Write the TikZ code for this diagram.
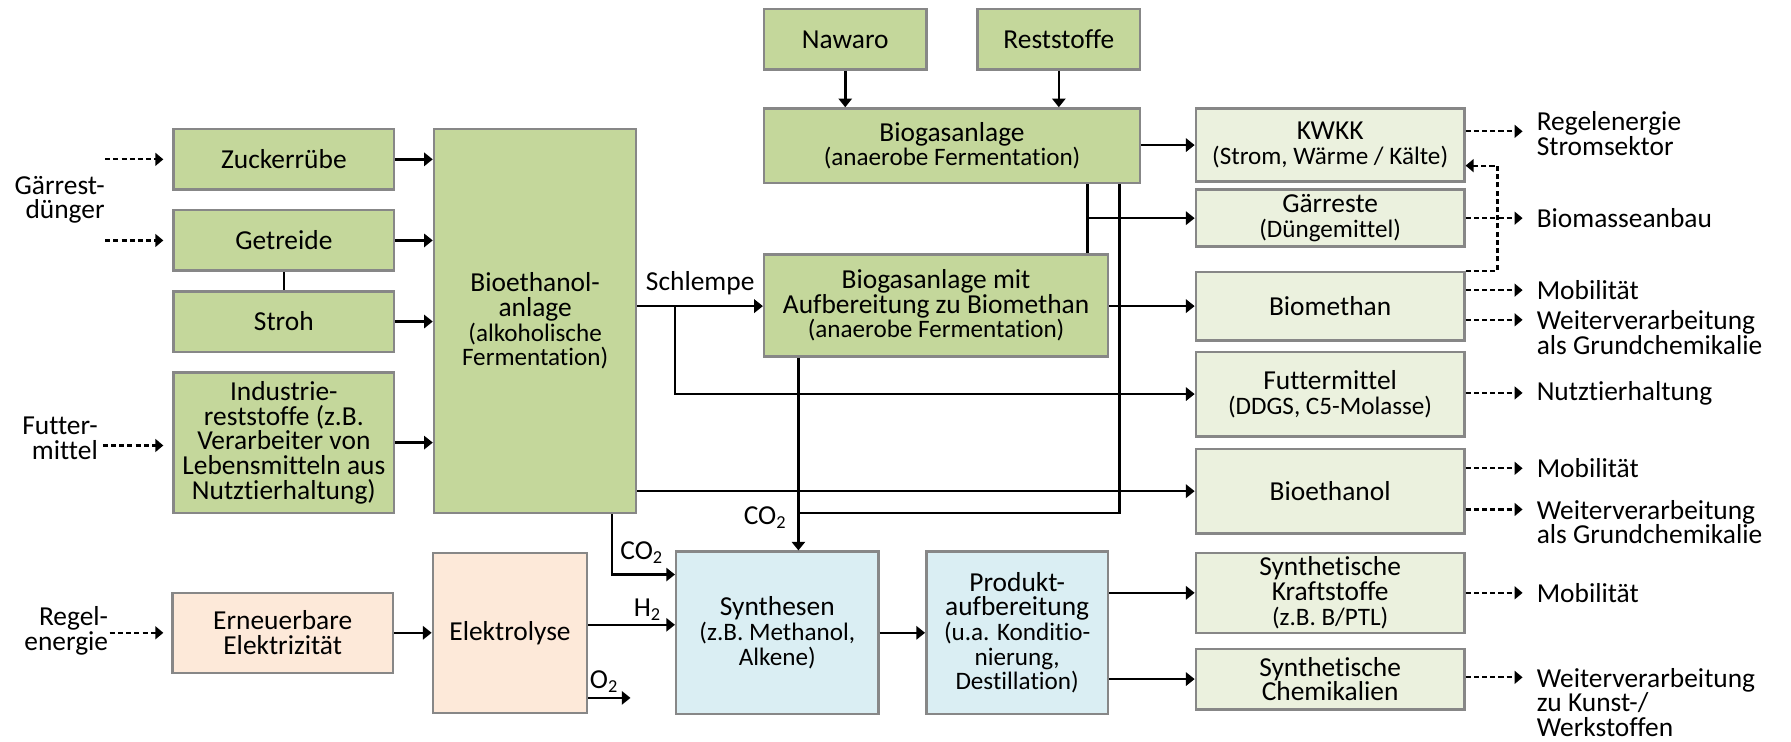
\documentclass[tikz,border=0pt]{standalone}
\usepackage{fontspec}
\setmainfont{Carlito}[Ligatures=CommonOff]
\usetikzlibrary{arrows.meta}
\definecolor{boxgreen}{HTML}{C4D79B}
\definecolor{outgreen}{HTML}{EBF1DE}
\definecolor{peach}{HTML}{FDE9D9}
\definecolor{paleblue}{HTML}{DAEEF3}
\definecolor{frame}{HTML}{878787}
\newcommand{\subt}[1]{{\fontsize{11pt}{10.8pt}\selectfont #1}}
\tikzset{
  every node/.style={font=\fontsize{12pt}{10.8pt}\selectfont},
  procbox/.style={draw=frame, line width=1.1pt, align=center, inner sep=1pt},
  gbox/.style={procbox, fill=boxgreen},
  obox/.style={procbox, fill=outgreen},
  pbox/.style={procbox, fill=peach},
  bbox/.style={procbox, fill=paleblue},
  flow/.style={line width=1.1pt, -{Triangle[length=3.8pt,width=5.8pt]}},
  link/.style={line width=1.1pt},
  hint/.style={line width=0.95pt, dash pattern=on 2.2pt off 1.4pt, -{Triangle[length=3.5pt,width=5.6pt]}},
  lbl/.style={inner sep=0pt, align=left},
}
\begin{document}
\begin{tikzpicture}[x=0.5pt,y=-0.5pt]
\useasboundingbox (0,0) rectangle (1568,649);

% raw materials for the bioethanol plant
\node[gbox, minimum width=96.5pt, minimum height=26.5pt] (zucker) at (248.5,139.5) {Zuckerrübe};
\node[gbox, minimum width=96.5pt, minimum height=26.5pt] (getreide) at (248.5,210.5) {Getreide};
\node[gbox, minimum width=96.5pt, minimum height=26.5pt] (stroh) at (248.5,281.5) {Stroh};
\node[gbox, minimum width=96.5pt, minimum height=61.5pt] (industrie) at (248.5,387.5)
  {Industrie-\\reststoffe (z.B.\\Verarbeiter von\\Lebensmitteln aus\\Nutztierhaltung)};
\node[gbox, minimum width=88.5pt, minimum height=168pt] (bioeth) at (468.5,281)
  {Bioethanol-\\anlage\\\subt{(alkoholische}\\\subt{Fermentation)}};

% biogas route
\node[gbox, minimum width=71pt, minimum height=26.5pt] (nawaro) at (740,34.5) {Nawaro};
\node[gbox, minimum width=71pt, minimum height=26.5pt] (rest) at (927,34.5) {Reststoffe};
\node[gbox, minimum width=164.5pt, minimum height=32.5pt] (biogas) at (833.5,127.5)
  {Biogasanlage\\\subt{(anaerobe Fermentation)}};
\node[gbox, minimum width=150.5pt, minimum height=44.5pt] (biogasmit) at (819.5,267.5)
  {Biogasanlage mit\\Aufbereitung zu Biomethan\\\subt{(anaerobe Fermentation)}};

% products
\node[obox, minimum width=117.5pt, minimum height=32pt] (kwkk) at (1164.5,127)
  {KWKK\\\subt{(Strom, Wärme / Kälte)}};
\node[obox, minimum width=117.5pt, minimum height=25pt] (gaerreste) at (1164.5,191)
  {Gärreste\\\subt{(Düngemittel)}};
\node[obox, minimum width=117.5pt, minimum height=30pt] (biomethan) at (1164.5,268) {Biomethan};
\node[obox, minimum width=117.5pt, minimum height=37pt] (futter) at (1164.5,345)
  {Futtermittel\\\subt{(DDGS, C5-Molasse)}};
\node[obox, minimum width=117.5pt, minimum height=37pt] (bioethanol) at (1164.5,430) {Bioethanol};
\node[obox, minimum width=117.5pt, minimum height=35pt] (synkraft) at (1164.5,519)
  {Synthetische\\Kraftstoffe\\\subt{(z.B. B/PTL)}};
\node[obox, minimum width=117.5pt, minimum height=26.5pt] (synchem) at (1164.5,594.5)
  {Synthetische\\Chemikalien};

% power-to-X route
\node[pbox, minimum width=96.5pt, minimum height=35pt] (erneuerbar) at (247.5,554)
  {Erneuerbare\\Elektrizität};
\node[pbox, minimum width=67.5pt, minimum height=70pt] (elektrolyse) at (446.5,554) {Elektrolyse};
\node[bbox, minimum width=88.5pt, minimum height=71pt] (synthesen) at (680.5,554)
  {Synthesen\\\subt{(z.B. Methanol,}\\\subt{Alkene)}};
\node[bbox, minimum width=79.5pt, minimum height=71pt] (produkt) at (890.5,554)
  {Produkt-\\aufbereitung\\\subt{(u.a. Konditio-}\\\subt{nierung,}\\\subt{Destillation)}};

% external inputs and uses
\node[lbl, align=right, anchor=east] (gaerrestlbl) at (92,175) {Gärrest-\\dünger};
\node[lbl, align=right, anchor=east] (futterlbl) at (86,384) {Futter-\\mittel};
\node[lbl, align=right, anchor=east] (regellbl) at (95,552) {Regel-\\energie};
\node[lbl, anchor=west] (out1) at (1345,117) {Regelenergie\\Stromsektor};
\node[lbl, anchor=west] (out2) at (1345,191) {Biomasseanbau};
\node[lbl, anchor=west] (out3) at (1345,254) {Mobilität};
\node[lbl, anchor=west] (out4) at (1345,291) {Weiterverarbeitung\\als Grundchemikalie};
\node[lbl, anchor=west] (out5) at (1345,344) {Nutztierhaltung};
\node[lbl, anchor=west] (out6) at (1345,410) {Mobilität};
\node[lbl, anchor=west] (out7) at (1345,457) {Weiterverarbeitung\\als Grundchemikalie};
\node[lbl, anchor=west] (out8) at (1345,519) {Mobilität};
\node[lbl, anchor=west] (out9) at (1345,615) {Weiterverarbeitung\\zu Kunst-/\\Werkstoffen};

% routing points
\coordinate (digest) at (952,191);
\coordinate (gasco2) at (980,449);
\coordinate (co2main) at (699,449);
\coordinate (schl) at (591,268);
\coordinate (etco2) at (536,503);
\coordinate (hyd) at (515,547);
\coordinate (oxy) at (552,611);
\coordinate (fb) at (1311,145);

% solid flows
\draw[flow] (zucker.east) -- (zucker.east -| bioeth.west);
\draw[flow] (getreide.east) -- (getreide.east -| bioeth.west);
\draw[flow] (stroh.east) -- (stroh.east -| bioeth.west);
\draw[flow] (industrie.east) -- (industrie.east -| bioeth.west);
\draw[link] (getreide.south) -- (stroh.north);
\draw[flow] (nawaro.south) -- (nawaro.south |- biogas.north);
\draw[flow] (rest.south) -- (rest.south |- biogas.north);
\draw[flow] (biogas.east |- kwkk.west) -- (kwkk.west);
\draw[link] (biogas.south -| digest) -- (biogasmit.north -| digest);
\draw[flow] (digest) -- (digest -| gaerreste.west);
\draw[flow] (biogasmit.east |- biomethan.west) -- (biomethan.west);
\draw[link] (biogas.south -| gasco2) -- (gasco2) -- (co2main);
\draw[flow] (biogasmit.south -| co2main) -- (synthesen.north -| co2main);
\draw[flow] (schl -| bioeth.east) -- (schl -| biogasmit.west)
  node[pos=0.5, above=1pt] (schlempe) {Schlempe};
\draw[flow] (schl) -- (schl |- futter.west) -- (futter.west);
\draw[flow] (bioeth.east |- bioethanol.west) -- (bioethanol.west);
\draw[flow] (bioeth.south -| etco2) -- (etco2) -- (etco2 -| synthesen.west);
\draw[flow] (hyd -| elektrolyse.east) -- (hyd -| synthesen.west);
\draw[flow] (oxy -| elektrolyse.east) -- (oxy);
\draw[flow] (erneuerbar.east) -- (erneuerbar.east -| elektrolyse.west);
\draw[flow] (synthesen.east) -- (produkt.west);
\draw[flow] (produkt.east |- synkraft.west) -- (synkraft.west);
\draw[flow] (produkt.east |- synchem.west) -- (synchem.west);

% gas labels
\node (co2a) at (562,484) {CO\textsubscript{2}};
\node (co2b) at (670,453) {CO\textsubscript{2}};
\node (h2) at (567,534) {H\textsubscript{2}};
\node (o2) at (529,597) {O\textsubscript{2}};

% dashed external links
\coordinate (inz) at (143,139.5);
\coordinate (ing) at (143,210.5);
\coordinate (inf) at (143,390);
\coordinate (inr) at (143,554);
\draw[hint] (inz -| gaerrestlbl.east) -- (inz);
\draw[hint] (ing -| gaerrestlbl.east) -- (ing);
\draw[hint] (inf -| futterlbl.east) ++(4,0) -- (inf);
\draw[hint] (inr -| regellbl.east) ++(1,0) -- (inr);

\coordinate (o1) at (1333,115);
\coordinate (o2) at (1333,191);
\coordinate (o3) at (1333,254);
\coordinate (o4) at (1333,280);
\coordinate (o5) at (1333,344);
\coordinate (o6) at (1333,410);
\coordinate (o7) at (1333,446);
\coordinate (o8) at (1333,519);
\coordinate (o9) at (1333,593);
\draw[hint] (o1 -| kwkk.east) -- (o1);
\draw[hint] (o2 -| gaerreste.east) -- (o2);
\draw[hint] (o3 -| biomethan.east) -- (o3);
\draw[hint] (o4 -| biomethan.east) -- (o4);
\draw[hint] (o5 -| futter.east) -- (o5);
\draw[hint] (o6 -| bioethanol.east) -- (o6);
\draw[hint] (o7 -| bioethanol.east) -- (o7);
\draw[hint] (o8 -| synkraft.east) -- (o8);
\draw[hint] (o9 -| synchem.east) -- (o9);
\draw[hint] (biomethan.north east) -- (biomethan.north east -| fb) -- (fb) -- (fb -| kwkk.east);
\end{tikzpicture}
\end{document}
